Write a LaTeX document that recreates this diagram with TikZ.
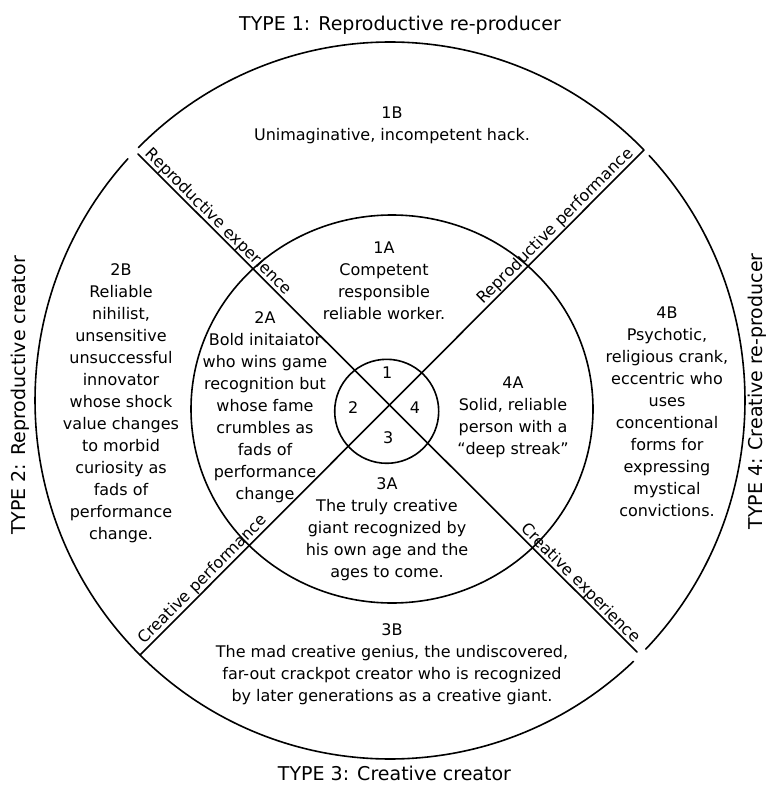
\documentclass[tikz,border=0pt]{standalone}
\usepackage{fontspec}
\setmainfont{DejaVu Sans}
\usetikzlibrary{calc}
\begin{document}
\begin{tikzpicture}[x=1pt,y=-1pt,
  txt/.style={font=\fontsize{16}{22}\selectfont, align=center, inner sep=0pt, anchor=north},
  typ/.style={font=\fontsize{19}{23}\selectfont, inner sep=0pt, anchor=base},
  lbl/.style={font=\fontsize{16}{20}\selectfont, inner sep=0.6pt, anchor=south},
  num/.style={font=\fontsize{16}{20}\selectfont, inner sep=0pt},
  ln/.style={line width=1.6pt, line cap=round}]
\useasboundingbox (0,0) rectangle (769,786);
\fill[white] (0,0) rectangle (769,786);
% centres
\coordinate (O) at (389,405);
\coordinate (C) at (390,400.5);
\coordinate (M) at (392,409);
\coordinate (I) at (386.7,411.3);
% outer circle (three arcs with small gaps)
\draw[ln] ([shift={(-135.1:355 and 358.5)}]C) arc[start angle=-135.1, end angle=-44.4, x radius=355, y radius=358.5];
\draw[ln] ([shift={(-43.1:355 and 358.5)}]C) arc[start angle=-43.1, end angle=43.9, x radius=355, y radius=358.5];
\draw[ln] ([shift={(46.7:355 and 358.5)}]C) arc[start angle=46.7, end angle=222.4, x radius=355, y radius=358.5];
% middle and inner circles
\draw[ln] (M) ellipse[x radius=201, y radius=194];
\draw[ln] (I) circle[radius=52];
% diagonals
\coordinate (ul) at (138,154);
\coordinate (lr) at (637,652);
\coordinate (ur) at (644,150);
\coordinate (ll) at (140,655);
\draw[ln] (ul) -- (lr);
\draw[ln] (ll) -- (ur);
% labels on the diagonals
\node[lbl, rotate=-45] (lre) at ($(O)!250pt!(ul)$) {Reproductive experience};
\node[lbl, rotate=45]  (lrp) at ($(O)!244pt!(ur)$) {Reproductive performance};
\node[lbl, rotate=45]  (lcp) at ($(O)!255pt!(ll)$) {Creative performance};
\node[lbl, rotate=-45] (lce) at ($(O)!261.5pt!(lr)$) {Creative experience};
% type titles
\node[typ] (t1) at (400,30.5) {TYPE 1: Reproductive re-producer};
\node[typ] (t3) at (394.5,780) {TYPE 3: Creative creator};
\node[typ, rotate=90] (t2) at (25.5,395.5) {TYPE 2: Reproductive creator};
\node[typ, rotate=90] (t4) at (762,391.5) {TYPE 4: Creative re-producer};
% inner numbers
\node[num] (n1) at (387.3,372.7) {1};
\node[num] (n2) at (353.3,407.3) {2};
\node[num] (n4) at (415,407.3) {4};
\node[num] (n3) at (388.3,437.3) {3};
% texts
\node[txt] (b1) at (392,107) {1B\\Unimaginative, incompetent hack.};
\node[txt] (a1) at (384,241.7) {1A\\Competent\\responsible\\reliable worker.};
\node[txt] (a2) at (265,311.7) {2A\\Bold initaiator\\who wins game\\recognition but\\whose fame\\crumbles as\\fads of\\performance\\change};
\node[txt] (b2) at (121,263.3) {2B\\Reliable\\nihilist,\\unsensitive\\unsuccessful\\innovator\\whose shock\\value changes\\to morbid\\curiosity as\\fads of\\performance\\change.};
\node[txt] (a4) at (513,377) {4A\\Solid, reliable\\person with a\\“deep streak”};
\node[txt] (b4) at (667,307) {4B\\Psychotic,\\religious crank,\\eccentric who\\uses\\concentional\\forms for\\expressing\\mystical\\convictions.};
\node[txt] (a3) at (387,477) {3A\\The truly creative\\giant recognized by\\his own age and the\\ages to come.};
\node[txt] (b3) at (392,623.5) {3B\\The mad creative genius, the undiscovered,\\far-out crackpot creator who is recognized\\by later generations as a creative giant.};
\end{tikzpicture}
\end{document}
